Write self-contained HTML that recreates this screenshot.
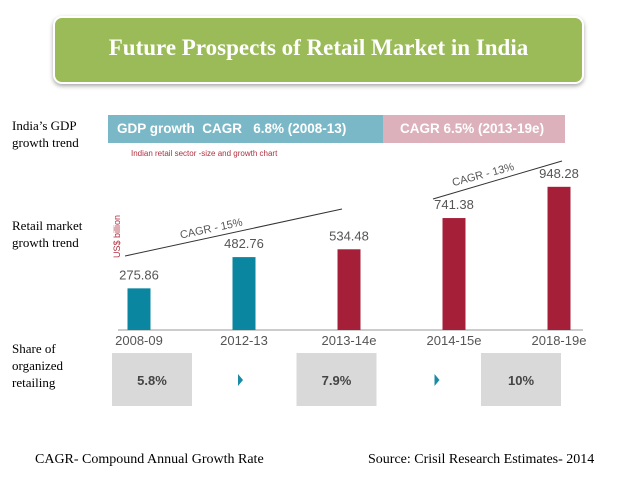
<!DOCTYPE html>
<html><head><meta charset="utf-8"><style>
body{margin:0;background:#fff;}
#root{position:relative;width:638px;height:479px;overflow:hidden;font-family:"Liberation Serif",serif;}
.lbl{position:absolute;font-size:13px;line-height:17px;color:#000;}
</style></head><body>
<div id="root">
<div style="position:absolute;left:53px;top:16px;width:531px;height:68px;background:#9bbb59;border:2px solid #fff;border-radius:9px;box-shadow:0 2px 4px rgba(0,0,0,.35);box-sizing:border-box;"></div>
<div style="position:absolute;left:53px;top:35px;width:531px;text-align:center;color:#fff;font-weight:bold;font-size:23px;">Future Prospects of Retail Market in India</div>

<div class="lbl" style="left:12px;top:117px;">India’s GDP<br>growth trend</div>
<div class="lbl" style="left:12px;top:217px;">Retail market<br>growth trend</div>
<div class="lbl" style="left:12px;top:340px;">Share of<br>organized<br>retailing</div>

<div style="position:absolute;left:108px;top:115px;width:275px;height:28px;background:#7ab8c8;color:#fff;font:bold 13.5px 'Liberation Sans',sans-serif;line-height:28px;padding-left:9px;box-sizing:border-box;">GDP growth&nbsp; CAGR&nbsp;&nbsp; 6.8% (2008-13)</div>
<div style="position:absolute;left:383px;top:115px;width:182px;height:28px;background:#dcb1bb;color:#fff;font:bold 13.5px 'Liberation Sans',sans-serif;line-height:28px;padding-left:17px;box-sizing:border-box;">CAGR 6.5% (2013-19e)</div>
<div style="position:absolute;left:131px;top:149px;color:#b03040;font:8px 'Liberation Sans',sans-serif;">Indian retail sector -size and growth chart</div>

<svg id="chart" width="638" height="479" style="position:absolute;left:0;top:0;font-family:'Liberation Sans',sans-serif;"></svg>

<div style="position:absolute;left:35px;top:452px;font-size:14px;">CAGR- Compound Annual Growth Rate</div>
<div style="position:absolute;left:368px;top:452px;font-size:14px;">Source: Crisil Research Estimates- 2014</div>
</div>
<script>
const categories=["2008-09","2012-13","2013-14e","2014-15e","2018-19e"];
const values=[275.86,482.76,534.48,741.38,948.28];
const barColors=["#0b86a0","#0b86a0","#a51f38","#a51f38","#a51f38"];
const shareLabels=["5.8%","7.9%","10%"];
const NS="http://www.w3.org/2000/svg";
const svg=document.getElementById('chart');
const baseY=330,pxPer=0.151,x0=139,step=105,bw=23;
const xs=i=>x0+i*step;
const ys=v=>baseY-v*pxPer;
const shareX0=152,shareStep=184.5;
function mk(t,a){const e=document.createElementNS(NS,t);for(const k in a)e.setAttribute(k,a[k]);svg.appendChild(e);return e;}
let ax=mk('line',{x1:118,y1:baseY,x2:583,y2:baseY,stroke:'#999','stroke-width':1});


categories.forEach((c,i)=>{
 const r=mk('rect',{x:xs(i)-bw/2,y:ys(values[i]),width:bw,height:baseY-ys(values[i]),fill:barColors[i]});
 
 
 const t=mk('text',{x:xs(i),y:ys(values[i])-9,'text-anchor':'middle','font-size':13,fill:'#555'});
 t.textContent=values[i].toFixed(2);
 
 
 const l=mk('text',{x:xs(i),y:345,'text-anchor':'middle','font-size':13,fill:'#555'});
 l.textContent=c;
 
 
});
shareLabels.forEach((s,j)=>{
 const cx=shareX0+j*shareStep;
 const r=mk('rect',{x:cx-40,y:353,width:80,height:53,fill:'#d9d9d9'});
 
 
 const t=mk('text',{x:cx,y:385,'text-anchor':'middle','font-size':13,'font-weight':'bold',fill:'#444'});
 t.textContent=s;
 
 
 if(j<2){const ax2=cx+(j==0?88:100);
  const p=mk('polygon',{points:`${ax2-2},374 ${ax2+3},380 ${ax2-2},386`,fill:'#1a8aa5'});
  
  }
});
const l1=mk('line',{x1:125,y1:256,x2:342,y2:209,stroke:'#333','stroke-width':1});


const t1=mk('text',{x:212,y:232,'text-anchor':'middle','font-size':11,fill:'#555',transform:'rotate(-12 212 232)'});
t1.textContent='CAGR - 15%';


const l2=mk('line',{x1:433,y1:199,x2:562,y2:161,stroke:'#333','stroke-width':1});


const t2=mk('text',{x:484,y:178,'text-anchor':'middle','font-size':11,fill:'#555',transform:'rotate(-15 484 178)'});
t2.textContent='CAGR - 13%';


const u=mk('text',{x:120,y:258,'font-size':9,fill:'#b03040',transform:'rotate(-90 120 258)'});
u.textContent='US$ billion';


</script>
</body></html>
